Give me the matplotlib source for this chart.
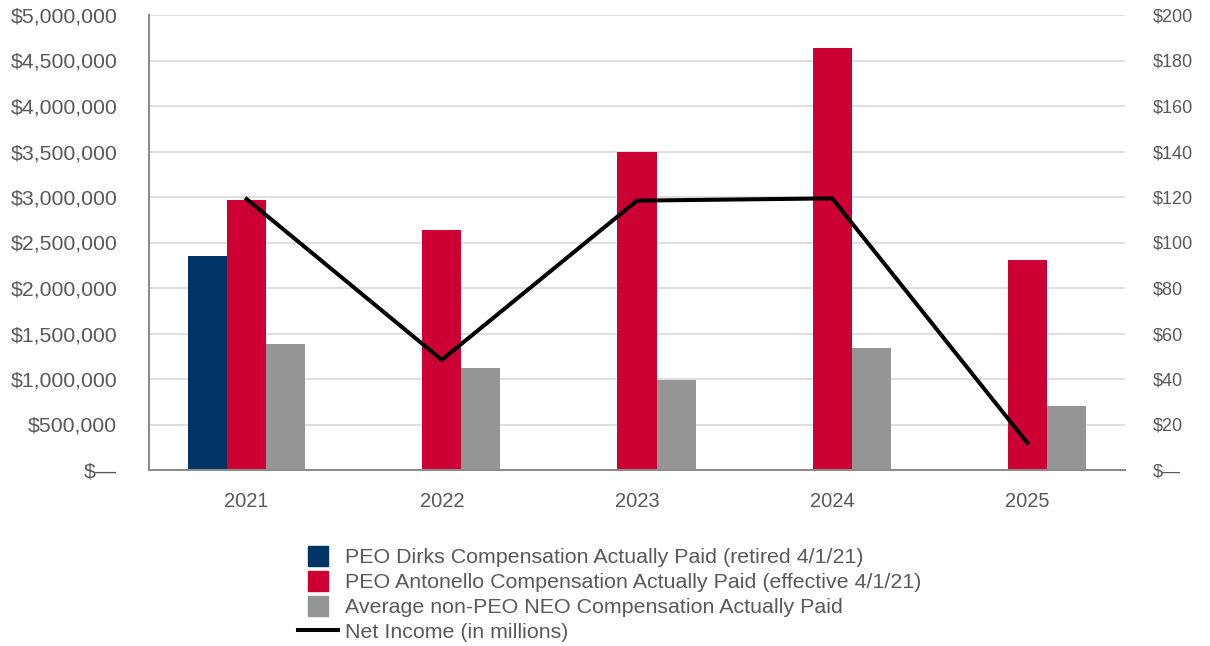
import matplotlib
matplotlib.use("Agg")
import matplotlib.pyplot as plt
import numpy as np
from matplotlib.patches import Rectangle, Patch
from matplotlib.lines import Line2D
from matplotlib.legend_handler import HandlerPatch
from matplotlib.ticker import FuncFormatter, MultipleLocator

plt.rcParams['font.family'] = ['Liberation Sans', 'DejaVu Sans']

years = ["2021", "2022", "2023", "2024", "2025"]
dirks = [2350000, 0, 0, 0, 0]
antonello = [2970000, 2640000, 3500000, 4640000, 2310000]
non_peo = [1390000, 1125000, 990000, 1340000, 705000]
net_income = [119.1, 48.4, 118.4, 119.4, 11.9]

labels = ["PEO Dirks Compensation Actually Paid (retired 4/1/21)",
          "PEO Antonello Compensation Actually Paid (effective 4/1/21)",
          "Average non-PEO NEO Compensation Actually Paid",
          "Net Income (in millions)"]

NAVY = "#003366"
RED = "#CC0033"
GRAY = "#959595"
TXT = "#595959"

fig = plt.figure(figsize=(12.1, 6.46), dpi=100)
ax = fig.add_axes([149/1210, 1-470/646, (1125-149)/1210, (470-15)/646])
ax2 = ax.twinx()

x = np.arange(len(years))
w = 0.2
ax.bar(x[:1] - w, dirks[:1], w, color=NAVY, zorder=2)
ax.bar(x, antonello, w, color=RED, zorder=2)
ax.bar(x + w, non_peo, w, color=GRAY, zorder=2)
ax2.plot(x, net_income, color="black", lw=2.9, zorder=3)

ax.set_xlim(-0.5, len(years) - 0.5)
ax.set_ylim(0, 5000000)
ax2.set_ylim(0, 200)
ax.yaxis.set_major_locator(MultipleLocator(500000))
ax2.yaxis.set_major_locator(MultipleLocator(20))

def lfmt(v, p):
    return "$\u2014" if v == 0 else "${:,.0f}".format(v)
ax.yaxis.set_major_formatter(FuncFormatter(lfmt))
ax2.yaxis.set_major_formatter(FuncFormatter(lfmt))

ax.grid(axis='y', color="#d9d9d9", lw=1.2, zorder=0)
ax.set_axisbelow(True)
ax.set_xticks(x)
ax.set_xticklabels(years)
for a in (ax, ax2):
    a.tick_params(length=0, colors=TXT)
    for s in ("top", "right"):
        a.spines[s].set_visible(False)
ax.tick_params(axis='x', pad=16, labelsize=14.5)
ax.tick_params(axis='y', pad=23, labelsize=15.3)
ax2.tick_params(axis='y', pad=20, labelsize=13)
ax2.spines["left"].set_visible(False)
ax2.spines["bottom"].set_visible(False)
ax.spines["left"].set_color("#8c8c8c")
ax.spines["bottom"].set_color("#8c8c8c")
ax.spines["left"].set_linewidth(1.5)
ax.spines["bottom"].set_linewidth(1.5)

def square(legend, orig_handle, xdescent, ydescent, width, height, fontsize):
    s = 20 * 72 / 100
    return Rectangle((-xdescent + (width - s) / 2, -ydescent + (height - s) / 2), s, s)

handles = [Patch(color=NAVY), Patch(color=RED), Patch(color=GRAY),
           Line2D([], [], color="black", lw=2.9)]
hm = {h: HandlerPatch(patch_func=square) for h in handles[:3]}
fig.legend(handles, labels, loc="upper left", bbox_to_anchor=(298/1210, 1-546/646),
           frameon=False, fontsize=15.4, labelcolor=TXT, handlelength=1.87,
           handleheight=1.0, labelspacing=0.2, handletextpad=0.33,
           borderaxespad=0, borderpad=0, handler_map=hm)

fig.savefig("out.png", dpi=100)
